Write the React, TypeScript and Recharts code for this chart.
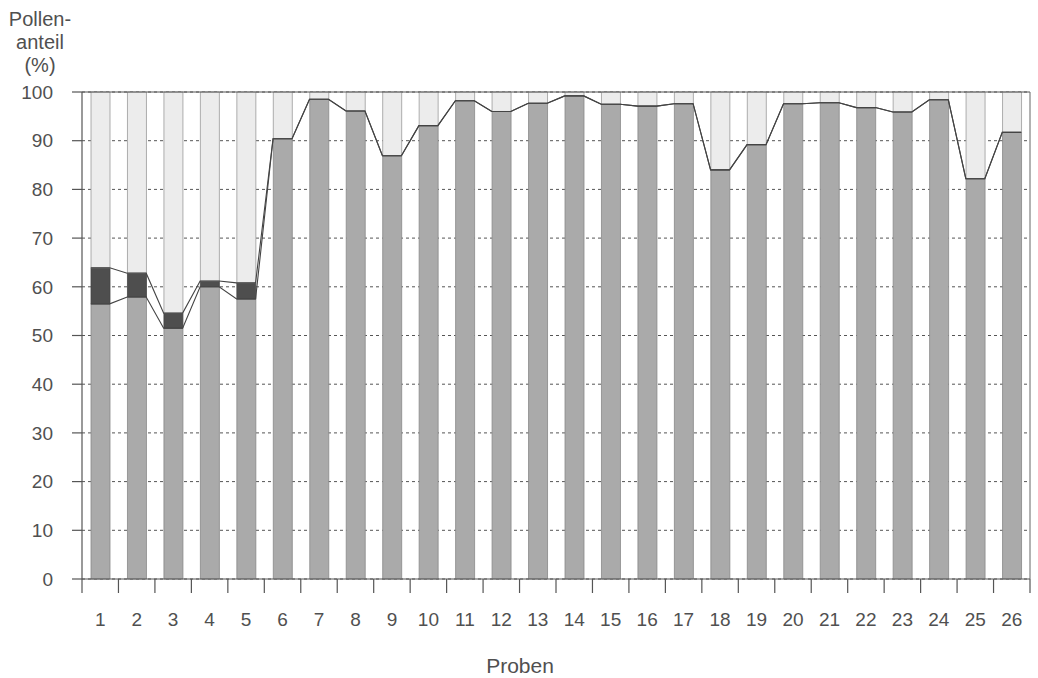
import React from 'react';
import { ComposedChart, Bar, Line, XAxis, YAxis, CartesianGrid, ReferenceLine } from 'recharts';

const samples = [1, 2, 3, 4, 5, 6, 7, 8, 9, 10, 11, 12, 13, 14, 15, 16, 17, 18, 19, 20, 21, 22, 23, 24, 25, 26];
const midShare = [56.5, 57.9, 51.5, 60.0, 57.5, 90.4, 98.5, 96.1, 86.9, 93.1, 98.2, 96.0, 97.7, 99.2, 97.5, 97.1, 97.6, 84.0, 89.2, 97.6, 97.8, 96.8, 95.9, 98.4, 82.2, 91.7];
const darkShare = [7.4, 4.9, 3.1, 1.2, 3.3, 0, 0, 0, 0, 0, 0, 0, 0, 0, 0, 0, 0, 0, 0, 0, 0, 0, 0, 0, 0, 0];
const yTicks = [0, 10, 20, 30, 40, 50, 60, 70, 80, 90, 100];

const HALF = 0.26;

const data = samples.map((s, i) => ({
  x: s,
  mid: midShare[i],
  dark: darkShare[i],
  light: +(100 - midShare[i] - darkShare[i]).toFixed(2),
}));

const edgeLine = (vals: number[]) =>
  samples.flatMap((s, i) => [
    { x: s - HALF, y: vals[i] },
    { x: s + HALF, y: vals[i] },
  ]);

const lineMid = edgeLine(midShare);
const lineDark = edgeLine(midShare.map((m, i) => m + darkShare[i]));

const xTicks = [0.5, ...samples.flatMap((s) => [s, s + 0.5])];

const TXT = '#505050';
const FONT = '"Liberation Sans", Arial, Helvetica, sans-serif';

const XTick = (props: any) => {
  const { x, y, payload } = props;
  const v = payload.value;
  if (Number.isInteger(v)) {
    return (
      <text x={x} y={y + 47} textAnchor="middle" fontSize={19} fill={TXT} fontFamily={FONT}>
        {v}
      </text>
    );
  }
  return <line x1={x} x2={x} y1={y} y2={y + 14} stroke="#555" strokeWidth={1.2} />;
};

export default function App() {
  return (
    <div style={{ position: 'absolute', left: 0, top: 0, width: 1038, height: 678, background: '#fff', fontFamily: FONT }}>
      <ComposedChart
        width={1038}
        height={678}
        data={data}
        margin={{ top: 92, right: 8, bottom: 0, left: 0 }}
        style={{ fontFamily: FONT }}
      >
        <XAxis
          xAxisId="lines"
          dataKey="x"
          type="number"
          domain={[0.5, 26.5]}
          allowDataOverflow
          ticks={xTicks}
          interval={0}
          tick={<XTick />}
          tickLine={false}
          tickSize={0}
          tickMargin={0}
          height={99}
          axisLine={{ stroke: '#555', strokeWidth: 1.2 }}
        />
        <XAxis xAxisId="bars" dataKey="x" type="number" domain={[0.5, 26.5]} allowDataOverflow ticks={samples} hide height={0} />
        <YAxis
          type="number"
          domain={[0, 100]}
          ticks={yTicks}
          interval={0}
          width={82}
          tickSize={10}
          tickMargin={19}
          tick={{ fontSize: 19, fill: TXT, fontFamily: FONT }}
          tickLine={{ stroke: '#555', strokeWidth: 1.2 }}
          axisLine={{ stroke: '#555', strokeWidth: 1.2 }}
        />
        <CartesianGrid xAxisId="lines" vertical={false} strokeDasharray="3 3" stroke="#555" />
        <ReferenceLine xAxisId="lines" y={100} stroke="#555" strokeWidth={1.2} />
        <ReferenceLine xAxisId="lines" x={26.5} stroke="#666" strokeWidth={1} />
        <Bar xAxisId="bars" dataKey="mid" stackId="a" barSize={19} fill="#aaaaaa" stroke="#888" strokeWidth={0.8} isAnimationActive={false} />
        <Bar xAxisId="bars" dataKey="dark" stackId="a" barSize={19} fill="#4e4e4e" stroke="#444" strokeWidth={0.8} isAnimationActive={false} />
        <Bar xAxisId="bars" dataKey="light" stackId="a" barSize={19} fill="#ececec" stroke="#9a9a9a" strokeWidth={0.8} isAnimationActive={false} />
        <Line xAxisId="lines" data={lineMid} dataKey="y" type="linear" dot={false} stroke="#444" strokeWidth={1.1} isAnimationActive={false} />
        <Line xAxisId="lines" data={lineDark} dataKey="y" type="linear" dot={false} stroke="#444" strokeWidth={1.1} isAnimationActive={false} />
      </ComposedChart>
      <div style={{ position: 'absolute', left: 0, top: 8, width: 80, textAlign: 'center', fontSize: 20, lineHeight: '23px', color: TXT }}>
        Pollen-
        <br />
        anteil
        <br />
        (%)
      </div>
      <div style={{ position: 'absolute', left: 420, top: 655, width: 200, textAlign: 'center', fontSize: 21, lineHeight: '21px', color: TXT }}>
        Proben
      </div>
    </div>
  );
}
